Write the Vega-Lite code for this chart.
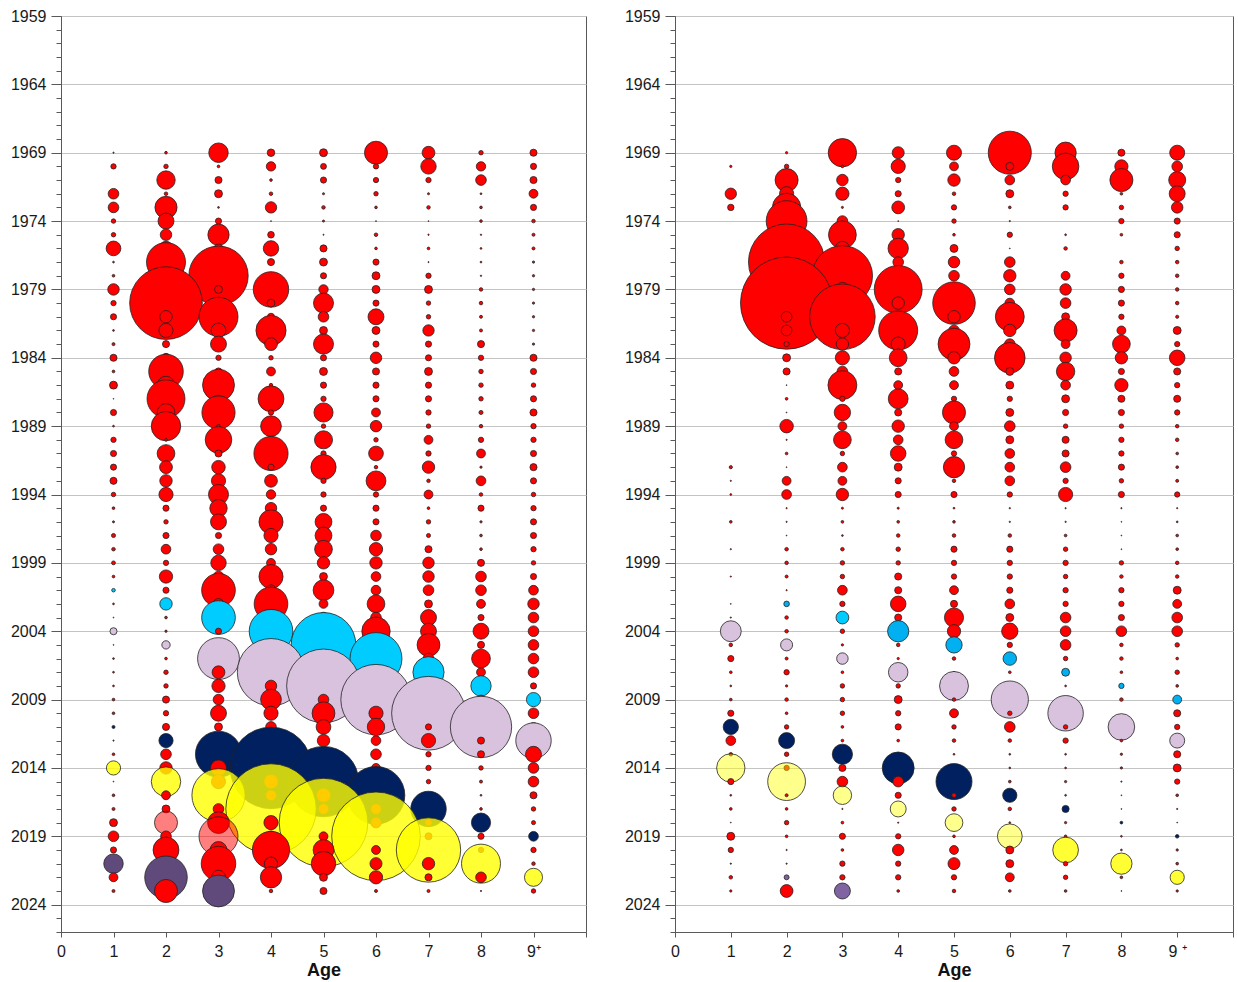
{
  "$schema": "https://vega.github.io/schema/vega-lite/v6.json",
  "background": "white",
  "padding": {"left": 9, "top": 7, "right": 2, "bottom": 0},
  "spacing": 36,
  "config": {
    "font": "Liberation Sans",
    "view": {"stroke": "#595959", "strokeWidth": 1},
    "axis": {
      "labelFont": "Liberation Sans",
      "labelFontSize": 16,
      "labelColor": "#1a1a1a",
      "domainColor": "#595959",
      "tickColor": "#595959",
      "titleFont": "Liberation Sans",
      "titleColor": "#111111"
    }
  },
  "hconcat": [
    {
      "width": 525,
      "height": 916,
      "data": {
        "values": "a,y,v,c\n1,1969,0.5,r\n1,1970,9,r\n1,1972,36,r\n1,1973,36,r\n1,1974,6.3,r\n1,1975,6.3,r\n1,1976,69,r\n1,1977,1,r\n1,1978,2.3,r\n1,1979,42,r\n1,1980,9,r\n1,1981,12,r\n1,1982,1,r\n1,1983,2.9,r\n1,1984,16,r\n1,1985,2.3,r\n1,1986,20,r\n1,1987,0.2,r\n1,1988,12,r\n1,1989,1,r\n1,1990,9,r\n1,1991,12,r\n1,1992,12,r\n1,1993,16,r\n1,1994,6.3,r\n1,1995,2.3,r\n1,1996,1.4,r\n1,1997,5.3,r\n1,1998,4,r\n1,1999,4.8,r\n1,2000,2.3,r\n1,2001,4,c\n1,2002,1,r\n1,2003,0.25,r\n1,2004,16,l\n1,2005,0.25,r\n1,2006,1,r\n1,2007,1,r\n1,2008,1,r\n1,2009,2.3,r\n1,2010,2.3,r\n1,2011,2.9,n\n1,2012,0.5,r\n1,2013,2.3,r\n1,2014,64,y\n1,2015,0.25,r\n1,2016,2.3,r\n1,2017,2.9,r\n1,2018,20,r\n1,2019,36,r\n1,2020,12,r\n1,2021,121,p\n1,2022,25,r\n1,2023,2.9,r\n2,1969,2.3,r\n2,1970,6.3,r\n2,1971,108,r\n2,1972,4,r\n2,1973,156,r\n2,1974,81,r\n2,1975,42,r\n2,1976,64,r\n2,1977,484,r\n2,1978,64,r\n2,1979,36,r\n2,1980,1681,r\n2,1981,49,r\n2,1982,64,r\n2,1983,16,r\n2,1984,25,r\n2,1985,380,r\n2,1986,100,r\n2,1987,458,r\n2,1988,100,r\n2,1989,276,r\n2,1990,2.3,r\n2,1991,100,r\n2,1992,52,r\n2,1993,49,r\n2,1994,64,r\n2,1995,12,r\n2,1996,6.3,r\n2,1997,12,r\n2,1998,30,r\n2,1999,9,r\n2,2000,56,r\n2,2001,12,r\n2,2002,49,c\n2,2003,2.3,r\n2,2004,1.7,r\n2,2005,22,l\n2,2006,2.3,r\n2,2007,6.3,r\n2,2008,6.3,r\n2,2009,16,r\n2,2010,9,r\n2,2011,16,r\n2,2012,64,n\n2,2013,36,r\n2,2014,49,r\n2,2015,276,y\n2,2016,25,r\n2,2017,20,r\n2,2018,169,k\n2,2019,36,r\n2,2020,213,r\n2,2021,64,r\n2,2022,576,p\n2,2023,169,r\n3,1969,121,r\n3,1970,2.3,r\n3,1971,16,r\n3,1972,20,r\n3,1973,1,r\n3,1974,12,r\n3,1975,144,r\n3,1976,25,r\n3,1977,64,r\n3,1978,1122,r\n3,1979,20,r\n3,1980,25,r\n3,1981,484,r\n3,1982,69,r\n3,1983,81,r\n3,1984,9,r\n3,1985,16,r\n3,1986,324,r\n3,1987,16,r\n3,1988,350,r\n3,1989,4,r\n3,1990,225,r\n3,1991,16,r\n3,1992,58,r\n3,1993,64,r\n3,1994,128,r\n3,1995,96,r\n3,1996,81,r\n3,1997,12,r\n3,1998,36,r\n3,1999,76,r\n3,2000,36,r\n3,2001,361,r\n3,2002,36,r\n3,2003,361,c\n3,2004,12,r\n3,2005,16,r\n3,2006,557,l\n3,2007,52,r\n3,2008,56,r\n3,2009,36,r\n3,2010,81,r\n3,2011,20,r\n3,2012,25,r\n3,2013,676,n\n3,2014,81,r\n3,2015,64,r\n3,2016,900,y\n3,2017,36,r\n3,2018,151,r\n3,2019,484,k\n3,2020,90,r\n3,2021,380,r\n3,2022,64,r\n3,2023,324,p\n4,1969,18,r\n4,1970,28,r\n4,1971,2.3,r\n4,1972,4,r\n4,1973,41,r\n4,1974,0.25,r\n4,1975,14,r\n4,1976,76,r\n4,1977,16,r\n4,1978,16,r\n4,1979,400,r\n4,1980,20,r\n4,1981,16,r\n4,1982,289,r\n4,1983,52,r\n4,1984,6.3,r\n4,1985,25,r\n4,1986,4,r\n4,1987,213,r\n4,1988,9,r\n4,1989,137,r\n4,1990,16,r\n4,1991,372,r\n4,1992,12,r\n4,1993,52,r\n4,1994,28,r\n4,1995,42,r\n4,1996,185,r\n4,1997,64,r\n4,1998,42,r\n4,1999,25,r\n4,2000,185,r\n4,2001,36,r\n4,2002,361,r\n4,2003,36,r\n4,2004,605,c\n4,2005,25,r\n4,2006,25,r\n4,2007,1444,l\n4,2008,42,r\n4,2009,137,r\n4,2010,64,r\n4,2011,36,r\n4,2012,36,r\n4,2013,36,r\n4,2014,2116,n\n4,2015,64,r\n4,2016,36,r\n4,2017,2601,y\n4,2018,64,r\n4,2019,36,r\n4,2020,441,r\n4,2021,56,r\n4,2022,144,r\n4,2023,4,r\n5,1969,20,r\n5,1970,11,r\n5,1971,12,r\n5,1972,1.4,r\n5,1973,4,r\n5,1974,1.4,r\n5,1975,0.4,r\n5,1976,16,r\n5,1977,20,r\n5,1978,12,r\n5,1979,28,r\n5,1980,128,r\n5,1981,36,r\n5,1982,20,r\n5,1983,128,r\n5,1984,12,r\n5,1985,20,r\n5,1986,12,r\n5,1987,9,r\n5,1988,117,r\n5,1989,6.3,r\n5,1990,104,r\n5,1991,9,r\n5,1992,202,r\n5,1993,9,r\n5,1994,9,r\n5,1995,12,r\n5,1996,90,r\n5,1997,90,r\n5,1998,100,r\n5,1999,49,r\n5,2000,20,r\n5,2001,137,r\n5,2002,25,r\n5,2003,36,r\n5,2004,36,r\n5,2005,1332,c\n5,2006,36,r\n5,2007,36,r\n5,2008,1730,l\n5,2009,36,r\n5,2010,166,r\n5,2011,69,r\n5,2012,49,r\n5,2013,36,r\n5,2014,36,r\n5,2015,1576,n\n5,2016,64,r\n5,2017,36,r\n5,2018,2500,y\n5,2019,25,r\n5,2020,137,r\n5,2021,190,r\n5,2022,20,r\n5,2023,16,r\n6,1969,169,r\n6,1970,9,r\n6,1971,9,r\n6,1972,6.3,r\n6,1973,2.3,r\n6,1974,0.25,r\n6,1975,4,r\n6,1976,2.3,r\n6,1977,12,r\n6,1978,20,r\n6,1979,20,r\n6,1980,12,r\n6,1981,81,r\n6,1982,20,r\n6,1983,12,r\n6,1984,42,r\n6,1985,16,r\n6,1986,12,r\n6,1987,12,r\n6,1988,25,r\n6,1989,42,r\n6,1990,6.3,r\n6,1991,69,r\n6,1992,4,r\n6,1993,125,r\n6,1994,9,r\n6,1995,12,r\n6,1996,12,r\n6,1997,36,r\n6,1998,56,r\n6,1999,49,r\n6,2000,30,r\n6,2001,30,r\n6,2002,100,r\n6,2003,36,r\n6,2004,256,r\n6,2005,36,r\n6,2006,858,c\n6,2007,36,r\n6,2008,36,r\n6,2009,1576,l\n6,2010,64,r\n6,2011,96,r\n6,2012,30,r\n6,2013,36,r\n6,2014,25,r\n6,2015,25,r\n6,2016,1056,n\n6,2017,36,r\n6,2018,36,r\n6,2019,2500,y\n6,2020,25,r\n6,2021,46,r\n6,2022,56,r\n6,2023,2.9,r\n7,1969,52,r\n7,1970,76,r\n7,1971,9,r\n7,1972,1.4,r\n7,1973,4,r\n7,1974,0.25,r\n7,1975,0.6,r\n7,1976,2.3,r\n7,1977,0.4,r\n7,1978,9,r\n7,1979,20,r\n7,1980,6.3,r\n7,1981,6.3,r\n7,1982,41,r\n7,1983,12,r\n7,1984,12,r\n7,1985,20,r\n7,1986,12,r\n7,1987,12,r\n7,1988,9,r\n7,1989,6.3,r\n7,1990,25,r\n7,1991,9,r\n7,1992,49,r\n7,1993,4,r\n7,1994,25,r\n7,1995,2.3,r\n7,1996,6.3,r\n7,1997,5.3,r\n7,1998,16,r\n7,1999,42,r\n7,2000,42,r\n7,2001,36,r\n7,2002,20,r\n7,2003,81,r\n7,2004,81,r\n7,2005,166,r\n7,2006,36,r\n7,2007,310,c\n7,2008,25,r\n7,2009,25,r\n7,2010,1730,l\n7,2011,12,r\n7,2012,64,r\n7,2013,9,r\n7,2014,9,r\n7,2015,6.3,r\n7,2016,1.7,r\n7,2017,400,n\n7,2018,16,r\n7,2019,16,r\n7,2020,1318,y\n7,2021,49,r\n7,2022,16,r\n7,2023,2.9,r\n8,1969,6.3,r\n8,1970,28,r\n8,1971,36,r\n8,1972,1,r\n8,1973,2.3,r\n8,1974,2.3,r\n8,1975,0.6,r\n8,1976,1,r\n8,1977,1,r\n8,1978,0.6,r\n8,1979,4,r\n8,1980,4,r\n8,1981,2.9,r\n8,1982,2.9,r\n8,1983,16,r\n8,1984,9,r\n8,1985,6.3,r\n8,1986,6.3,r\n8,1987,6.3,r\n8,1988,5.3,r\n8,1989,4,r\n8,1990,9,r\n8,1991,25,r\n8,1992,1.7,r\n8,1993,30,r\n8,1994,4,r\n8,1995,12,r\n8,1996,1.7,r\n8,1997,2.3,r\n8,1998,2.3,r\n8,1999,16,r\n8,2000,36,r\n8,2001,36,r\n8,2002,25,r\n8,2003,12,r\n8,2004,81,r\n8,2005,16,r\n8,2006,112,r\n8,2007,25,r\n8,2008,132,c\n8,2009,25,r\n8,2010,25,r\n8,2011,1197,l\n8,2012,16,r\n8,2013,16,r\n8,2014,6.3,r\n8,2015,2.9,r\n8,2016,1,r\n8,2017,2.3,r\n8,2018,117,n\n8,2019,12,r\n8,2020,9,r\n8,2021,484,y\n8,2022,36,r\n8,2023,0.5,r\n9,1969,16,r\n9,1970,12,r\n9,1971,16,r\n9,1972,25,r\n9,1973,12,r\n9,1974,4,r\n9,1975,2.9,r\n9,1976,2.9,r\n9,1977,1.7,r\n9,1978,1.7,r\n9,1979,1.7,r\n9,1980,1.7,r\n9,1981,1.7,r\n9,1982,1.7,r\n9,1983,1.7,r\n9,1984,16,r\n9,1985,12,r\n9,1986,6.3,r\n9,1987,12,r\n9,1988,16,r\n9,1989,9,r\n9,1990,9,r\n9,1991,12,r\n9,1992,16,r\n9,1993,12,r\n9,1994,6.3,r\n9,1995,9,r\n9,1996,12,r\n9,1997,12,r\n9,1998,9,r\n9,1999,6.3,r\n9,2000,12,r\n9,2001,30,r\n9,2002,42,r\n9,2003,36,r\n9,2004,36,r\n9,2005,36,r\n9,2006,36,r\n9,2007,36,r\n9,2008,12,r\n9,2009,64,c\n9,2010,36,r\n9,2011,25,r\n9,2012,400,l\n9,2013,81,r\n9,2014,36,r\n9,2015,36,r\n9,2016,16,r\n9,2017,6.3,r\n9,2018,5.3,r\n9,2019,30,n\n9,2020,9,r\n9,2021,4,r\n9,2022,104,y\n9,2023,6.3,r",
        "format": {"type": "csv", "parse": {"a": "number", "y": "number", "v": "number"}}
      },
      "mark": {"type": "circle", "opacity": 1, "stroke": "#222222", "strokeWidth": 0.8},
      "encoding": {
        "x": {
          "field": "a", "type": "quantitative",
          "scale": {"domain": [0, 10], "nice": false, "zero": true},
          "axis": {
            "values": [0, 1, 2, 3, 4, 5, 6, 7, 8, 9, 10],
            "format": "d",
            "labelExpr": "datum.value === 9 ? '9⁺' : (datum.value === 10 ? '' : datum.label)",
            "grid": false, "tickSize": 5, "labelPadding": 6, "labelFlush": false, "labelOverlap": false,
            "title": "Age", "titleFontSize": 18, "titleFontWeight": "bold", "titlePadding": 2
          }
        },
        "y": {
          "field": "y", "type": "quantitative",
          "scale": {"domain": [1959, 2026], "reverse": true, "nice": false, "zero": false},
          "axis": {
            "values": [1959, 1960, 1961, 1962, 1963, 1964, 1965, 1966, 1967, 1968, 1969, 1970, 1971, 1972, 1973, 1974, 1975, 1976, 1977, 1978, 1979, 1980, 1981, 1982, 1983, 1984, 1985, 1986, 1987, 1988, 1989, 1990, 1991, 1992, 1993, 1994, 1995, 1996, 1997, 1998, 1999, 2000, 2001, 2002, 2003, 2004, 2005, 2006, 2007, 2008, 2009, 2010, 2011, 2012, 2013, 2014, 2015, 2016, 2017, 2018, 2019, 2020, 2021, 2022, 2023, 2024, 2025, 2026],
            "format": "d",
            "labelExpr": "(datum.value - 1959) % 5 === 0 ? datum.label : ''",
            "labelOverlap": false, "labelFlush": false, "labelPadding": 5,
            "grid": true, "gridColor": "#c4c4c4", "gridWidth": 1,
            "gridOpacity": {"condition": {"test": "(datum.value - 1959) % 5 === 0", "value": 1}, "value": 0},
            "tickSize": {"condition": {"test": "(datum.value - 1959) % 5 === 0", "value": 10}, "value": 5},
            "title": null
          }
        },
        "size": {"field": "v", "type": "quantitative", "scale": {"type": "linear", "domain": [0, 3000], "range": [0, 9424.8]}, "legend": null},
        "color": {
          "field": "c", "type": "nominal", "legend": null,
          "scale": {"domain": ["r", "c", "b", "l", "n", "y", "w", "p", "q", "k"], "range": ["#ff0000", "#00ccff", "#00b0f0", "#d9c2de", "#002060", "#ffff00", "#ffff00", "#604a7b", "#8064a2", "#ff0000"]}
        },
        "fillOpacity": {
          "condition": [
            {"test": "datum.c === 'y'", "value": 0.8},
            {"test": "datum.c === 'w'", "value": 0.45},
            {"test": "datum.c === 'k'", "value": 0.5}
          ],
          "value": 1
        },
        "order": {"field": "y", "type": "quantitative"}
      }
    },
    {
      "width": 558,
      "height": 916,
      "data": {
        "values": "a,y,v,c\n1,1970,1.7,r\n1,1972,41,r\n1,1973,13,r\n1,1992,3.2,r\n1,1993,0.5,r\n1,1994,1,r\n1,1996,2.3,r\n1,1998,0.5,r\n1,2000,0.5,r\n1,2002,0.25,r\n1,2003,0.5,r\n1,2004,139,l\n1,2005,4,r\n1,2006,12,r\n1,2007,2.3,r\n1,2008,1,r\n1,2009,2.3,r\n1,2010,12,r\n1,2011,74,n\n1,2012,30,r\n1,2013,4,r\n1,2014,256,w\n1,2015,12,r\n1,2016,1,r\n1,2017,2.3,r\n1,2018,0.25,r\n1,2019,20,r\n1,2020,9,r\n1,2021,0.5,n\n1,2022,4,r\n1,2023,1.7,r\n2,1969,1.7,r\n2,1970,6.3,r\n2,1971,169,r\n2,1972,64,r\n2,1973,256,r\n2,1974,529,r\n2,1975,100,r\n2,1976,225,r\n2,1977,1849,r\n2,1978,100,r\n2,1979,100,r\n2,1980,2704,r\n2,1981,36,r\n2,1982,36,r\n2,1983,9,r\n2,1984,20,r\n2,1985,16,r\n2,1986,0.25,r\n2,1987,2.3,r\n2,1988,0.25,r\n2,1989,58,r\n2,1990,0.5,r\n2,1991,2.3,r\n2,1992,0.25,r\n2,1993,25,r\n2,1994,30,r\n2,1995,0.5,r\n2,1996,0.5,r\n2,1997,0.25,r\n2,1998,4,r\n2,1999,4,r\n2,2000,2.9,r\n2,2001,0.5,r\n2,2002,10,b\n2,2003,4,r\n2,2004,4,r\n2,2005,46,l\n2,2006,2.9,r\n2,2007,9,r\n2,2008,1.7,r\n2,2009,4,r\n2,2010,2.3,r\n2,2011,6.3,r\n2,2012,81,n\n2,2013,6.3,r\n2,2014,9,r\n2,2015,454,w\n2,2016,2.9,r\n2,2017,2.3,r\n2,2018,6.3,r\n2,2019,2.3,r\n2,2020,0.5,r\n2,2021,0.5,r\n2,2022,7.8,q\n2,2023,52,r\n3,1969,256,r\n3,1970,2.3,r\n3,1971,42,r\n3,1972,56,r\n3,1973,1.4,r\n3,1974,36,r\n3,1975,246,r\n3,1976,64,r\n3,1977,64,r\n3,1978,1156,r\n3,1979,64,r\n3,1980,64,r\n3,1981,1369,r\n3,1982,64,r\n3,1983,49,r\n3,1984,64,r\n3,1985,36,r\n3,1986,266,r\n3,1987,9,r\n3,1988,85,r\n3,1989,25,r\n3,1990,100,r\n3,1991,6.3,r\n3,1992,30,r\n3,1993,25,r\n3,1994,49,r\n3,1995,1.4,r\n3,1996,2.3,r\n3,1997,1,r\n3,1998,4,r\n3,1999,6.3,r\n3,2000,6.3,r\n3,2001,30,r\n3,2002,9,r\n3,2003,52,c\n3,2004,6.3,r\n3,2005,1.7,r\n3,2006,42,l\n3,2007,2.3,r\n3,2008,6.3,r\n3,2009,6.3,r\n3,2010,6.3,r\n3,2011,2.3,r\n3,2012,2.3,r\n3,2013,130,n\n3,2014,16,r\n3,2015,36,r\n3,2016,108,w\n3,2017,0.5,r\n3,2018,2.3,r\n3,2019,12,r\n3,2020,2.3,r\n3,2021,9,r\n3,2022,9,r\n3,2023,81,q\n4,1969,46,r\n4,1970,64,r\n4,1971,9,r\n4,1972,12,r\n4,1973,52,r\n4,1974,0.25,r\n4,1975,49,r\n4,1976,132,r\n4,1977,36,r\n4,1978,36,r\n4,1979,729,r\n4,1980,49,r\n4,1981,36,r\n4,1982,484,r\n4,1983,64,r\n4,1984,100,r\n4,1985,16,r\n4,1986,25,r\n4,1987,125,r\n4,1988,16,r\n4,1989,49,r\n4,1990,30,r\n4,1991,77,r\n4,1992,20,r\n4,1993,12,r\n4,1994,12,r\n4,1995,1.4,r\n4,1996,2.3,r\n4,1997,4,r\n4,1998,6.3,r\n4,1999,6.3,r\n4,2000,16,r\n4,2001,16,r\n4,2002,77,r\n4,2003,16,r\n4,2004,144,b\n4,2005,4,r\n4,2006,1.7,r\n4,2007,121,l\n4,2008,6.3,r\n4,2009,20,r\n4,2010,9,r\n4,2011,12,r\n4,2012,2.3,r\n4,2013,1,r\n4,2014,324,n\n4,2015,36,r\n4,2016,12,r\n4,2017,81,w\n4,2018,0.5,r\n4,2019,9,r\n4,2020,42,r\n4,2021,9,r\n4,2022,9,r\n4,2023,2.3,r\n5,1969,72,r\n5,1970,25,r\n5,1971,49,r\n5,1972,4,r\n5,1973,9,r\n5,1974,6.3,r\n5,1975,2.3,r\n5,1976,20,r\n5,1977,42,r\n5,1978,36,r\n5,1979,36,r\n5,1980,576,r\n5,1981,49,r\n5,1982,36,r\n5,1983,324,r\n5,1984,49,r\n5,1985,30,r\n5,1986,25,r\n5,1987,9,r\n5,1988,169,r\n5,1989,25,r\n5,1990,100,r\n5,1991,9,r\n5,1992,144,r\n5,1993,4,r\n5,1994,12,r\n5,1995,1,r\n5,1996,2.3,r\n5,1997,4,r\n5,1998,12,r\n5,1999,9,r\n5,2000,9,r\n5,2001,25,r\n5,2002,16,r\n5,2003,117,r\n5,2004,56,r\n5,2005,85,b\n5,2006,4,r\n5,2007,1,r\n5,2008,266,l\n5,2009,4,r\n5,2010,25,r\n5,2011,6.3,r\n5,2012,4,r\n5,2013,1,r\n5,2014,1,r\n5,2015,412,n\n5,2016,6.3,r\n5,2017,6.3,r\n5,2018,100,w\n5,2019,2.3,r\n5,2020,25,r\n5,2021,46,r\n5,2022,9,r\n5,2023,4,r\n6,1969,590,r\n6,1970,20,r\n6,1971,30,r\n6,1972,20,r\n6,1973,2.3,r\n6,1974,0.5,r\n6,1975,9,r\n6,1976,0.25,r\n6,1977,36,r\n6,1978,49,r\n6,1979,36,r\n6,1980,30,r\n6,1981,266,r\n6,1982,49,r\n6,1983,36,r\n6,1984,299,r\n6,1985,20,r\n6,1986,20,r\n6,1987,9,r\n6,1988,20,r\n6,1989,36,r\n6,1990,20,r\n6,1991,30,r\n6,1992,30,r\n6,1993,30,r\n6,1994,9,r\n6,1995,0.6,r\n6,1996,0.6,r\n6,1997,4,r\n6,1998,12,r\n6,1999,9,r\n6,2000,9,r\n6,2001,12,r\n6,2002,30,r\n6,2003,20,r\n6,2004,85,r\n6,2005,9,r\n6,2006,58,b\n6,2007,2.3,r\n6,2008,1,r\n6,2009,441,l\n6,2010,6.3,r\n6,2011,36,r\n6,2012,4,r\n6,2013,1,r\n6,2014,1,r\n6,2015,2.3,r\n6,2016,64,n\n6,2017,4,r\n6,2018,1,r\n6,2019,196,w\n6,2020,20,r\n6,2021,20,r\n6,2022,25,r\n6,2023,2.3,r\n7,1969,144,r\n7,1970,225,r\n7,1971,30,r\n7,1972,9,r\n7,1973,9,r\n7,1975,1,r\n7,1976,4,r\n7,1978,25,r\n7,1979,42,r\n7,1980,36,r\n7,1981,20,r\n7,1982,169,r\n7,1983,25,r\n7,1984,42,r\n7,1985,108,r\n7,1986,30,r\n7,1987,20,r\n7,1988,12,r\n7,1989,6.3,r\n7,1990,16,r\n7,1991,16,r\n7,1992,36,r\n7,1993,9,r\n7,1994,64,r\n7,1995,0.5,r\n7,1996,0.6,r\n7,1997,2.3,r\n7,1998,6.3,r\n7,1999,9,r\n7,2000,6.3,r\n7,2001,9,r\n7,2002,9,r\n7,2003,36,r\n7,2004,36,r\n7,2005,36,r\n7,2006,6.3,r\n7,2007,20,b\n7,2008,1,r\n7,2010,400,l\n7,2011,6.3,r\n7,2012,9,r\n7,2013,1,r\n7,2014,1,r\n7,2015,1.7,r\n7,2016,1,r\n7,2017,16,n\n7,2018,1.7,r\n7,2019,2.3,r\n7,2020,210,y\n7,2021,6.3,r\n7,2022,6.3,r\n7,2023,2.3,r\n8,1969,16,r\n8,1970,56,r\n8,1971,169,r\n8,1972,2.3,r\n8,1973,6.3,r\n8,1974,9,r\n8,1975,2.3,r\n8,1977,4,r\n8,1978,9,r\n8,1979,12,r\n8,1980,12,r\n8,1981,9,r\n8,1982,25,r\n8,1983,100,r\n8,1984,49,r\n8,1985,12,r\n8,1986,56,r\n8,1987,16,r\n8,1988,12,r\n8,1989,6.3,r\n8,1990,9,r\n8,1991,9,r\n8,1992,12,r\n8,1993,6.3,r\n8,1994,12,r\n8,1995,0.5,r\n8,1996,0.25,r\n8,1997,0.25,r\n8,1998,0.25,r\n8,1999,6.3,r\n8,2000,4,r\n8,2001,9,r\n8,2002,9,r\n8,2003,12,r\n8,2004,36,r\n8,2005,4,r\n8,2006,4,r\n8,2007,2.3,r\n8,2008,9,b\n8,2009,4,r\n8,2011,225,l\n8,2012,2.3,r\n8,2013,1.7,r\n8,2014,1.7,r\n8,2015,0.5,r\n8,2016,0.25,r\n8,2017,0.25,r\n8,2018,2.3,n\n8,2019,1,r\n8,2020,1,r\n8,2021,144,y\n8,2022,2.3,r\n8,2023,0.25,r\n9,1969,72,r\n9,1970,36,r\n9,1971,92,r\n9,1972,81,r\n9,1973,42,r\n9,1974,12,r\n9,1975,12,r\n9,1976,6.3,r\n9,1977,4,r\n9,1978,4,r\n9,1979,4,r\n9,1980,4,r\n9,1981,3.2,r\n9,1982,20,r\n9,1983,9,r\n9,1984,77,r\n9,1985,16,r\n9,1986,9,r\n9,1987,16,r\n9,1988,9,r\n9,1989,4,r\n9,1990,4,r\n9,1991,2.3,r\n9,1992,2.3,r\n9,1993,2.9,r\n9,1994,9,r\n9,1995,0.5,r\n9,1996,1,r\n9,1997,2.3,r\n9,1998,2.3,r\n9,1999,4,r\n9,2000,4,r\n9,2001,20,r\n9,2002,25,r\n9,2003,36,r\n9,2004,36,r\n9,2005,6.3,r\n9,2006,2.3,r\n9,2007,6.3,r\n9,2008,2.3,r\n9,2009,25,b\n9,2010,16,r\n9,2011,9,r\n9,2012,71,l\n9,2013,16,r\n9,2014,20,r\n9,2015,9,r\n9,2016,2.3,r\n9,2017,0.5,r\n9,2018,0.25,r\n9,2019,4,n\n9,2020,1.7,r\n9,2021,2.3,r\n9,2022,64,y\n9,2023,1.7,r",
        "format": {"type": "csv", "parse": {"a": "number", "y": "number", "v": "number"}}
      },
      "mark": {"type": "circle", "opacity": 1, "stroke": "#222222", "strokeWidth": 0.8},
      "encoding": {
        "x": {
          "field": "a", "type": "quantitative",
          "scale": {"domain": [0, 10], "nice": false, "zero": true},
          "axis": {
            "values": [0, 1, 2, 3, 4, 5, 6, 7, 8, 9, 10],
            "format": "d",
            "labelExpr": "datum.value === 9 ? '9 ⁺' : (datum.value === 10 ? '' : datum.label)",
            "grid": false, "tickSize": 5, "labelPadding": 6, "labelFlush": false, "labelOverlap": false,
            "title": "Age", "titleFontSize": 18, "titleFontWeight": "bold", "titlePadding": 2
          }
        },
        "y": {
          "field": "y", "type": "quantitative",
          "scale": {"domain": [1959, 2026], "reverse": true, "nice": false, "zero": false},
          "axis": {
            "values": [1959, 1960, 1961, 1962, 1963, 1964, 1965, 1966, 1967, 1968, 1969, 1970, 1971, 1972, 1973, 1974, 1975, 1976, 1977, 1978, 1979, 1980, 1981, 1982, 1983, 1984, 1985, 1986, 1987, 1988, 1989, 1990, 1991, 1992, 1993, 1994, 1995, 1996, 1997, 1998, 1999, 2000, 2001, 2002, 2003, 2004, 2005, 2006, 2007, 2008, 2009, 2010, 2011, 2012, 2013, 2014, 2015, 2016, 2017, 2018, 2019, 2020, 2021, 2022, 2023, 2024, 2025, 2026],
            "format": "d",
            "labelExpr": "(datum.value - 1959) % 5 === 0 ? datum.label : ''",
            "labelOverlap": false, "labelFlush": false, "labelPadding": 5,
            "grid": true, "gridColor": "#c4c4c4", "gridWidth": 1,
            "gridOpacity": {"condition": {"test": "(datum.value - 1959) % 5 === 0", "value": 1}, "value": 0},
            "tickSize": {"condition": {"test": "(datum.value - 1959) % 5 === 0", "value": 10}, "value": 5},
            "title": null
          }
        },
        "size": {"field": "v", "type": "quantitative", "scale": {"type": "linear", "domain": [0, 3000], "range": [0, 9424.8]}, "legend": null},
        "color": {
          "field": "c", "type": "nominal", "legend": null,
          "scale": {"domain": ["r", "c", "b", "l", "n", "y", "w", "p", "q", "k"], "range": ["#ff0000", "#00ccff", "#00b0f0", "#d9c2de", "#002060", "#ffff00", "#ffff00", "#604a7b", "#8064a2", "#ff0000"]}
        },
        "fillOpacity": {
          "condition": [
            {"test": "datum.c === 'y'", "value": 0.8},
            {"test": "datum.c === 'w'", "value": 0.45},
            {"test": "datum.c === 'k'", "value": 0.5}
          ],
          "value": 1
        },
        "order": {"field": "y", "type": "quantitative"}
      }
    }
  ]
}
